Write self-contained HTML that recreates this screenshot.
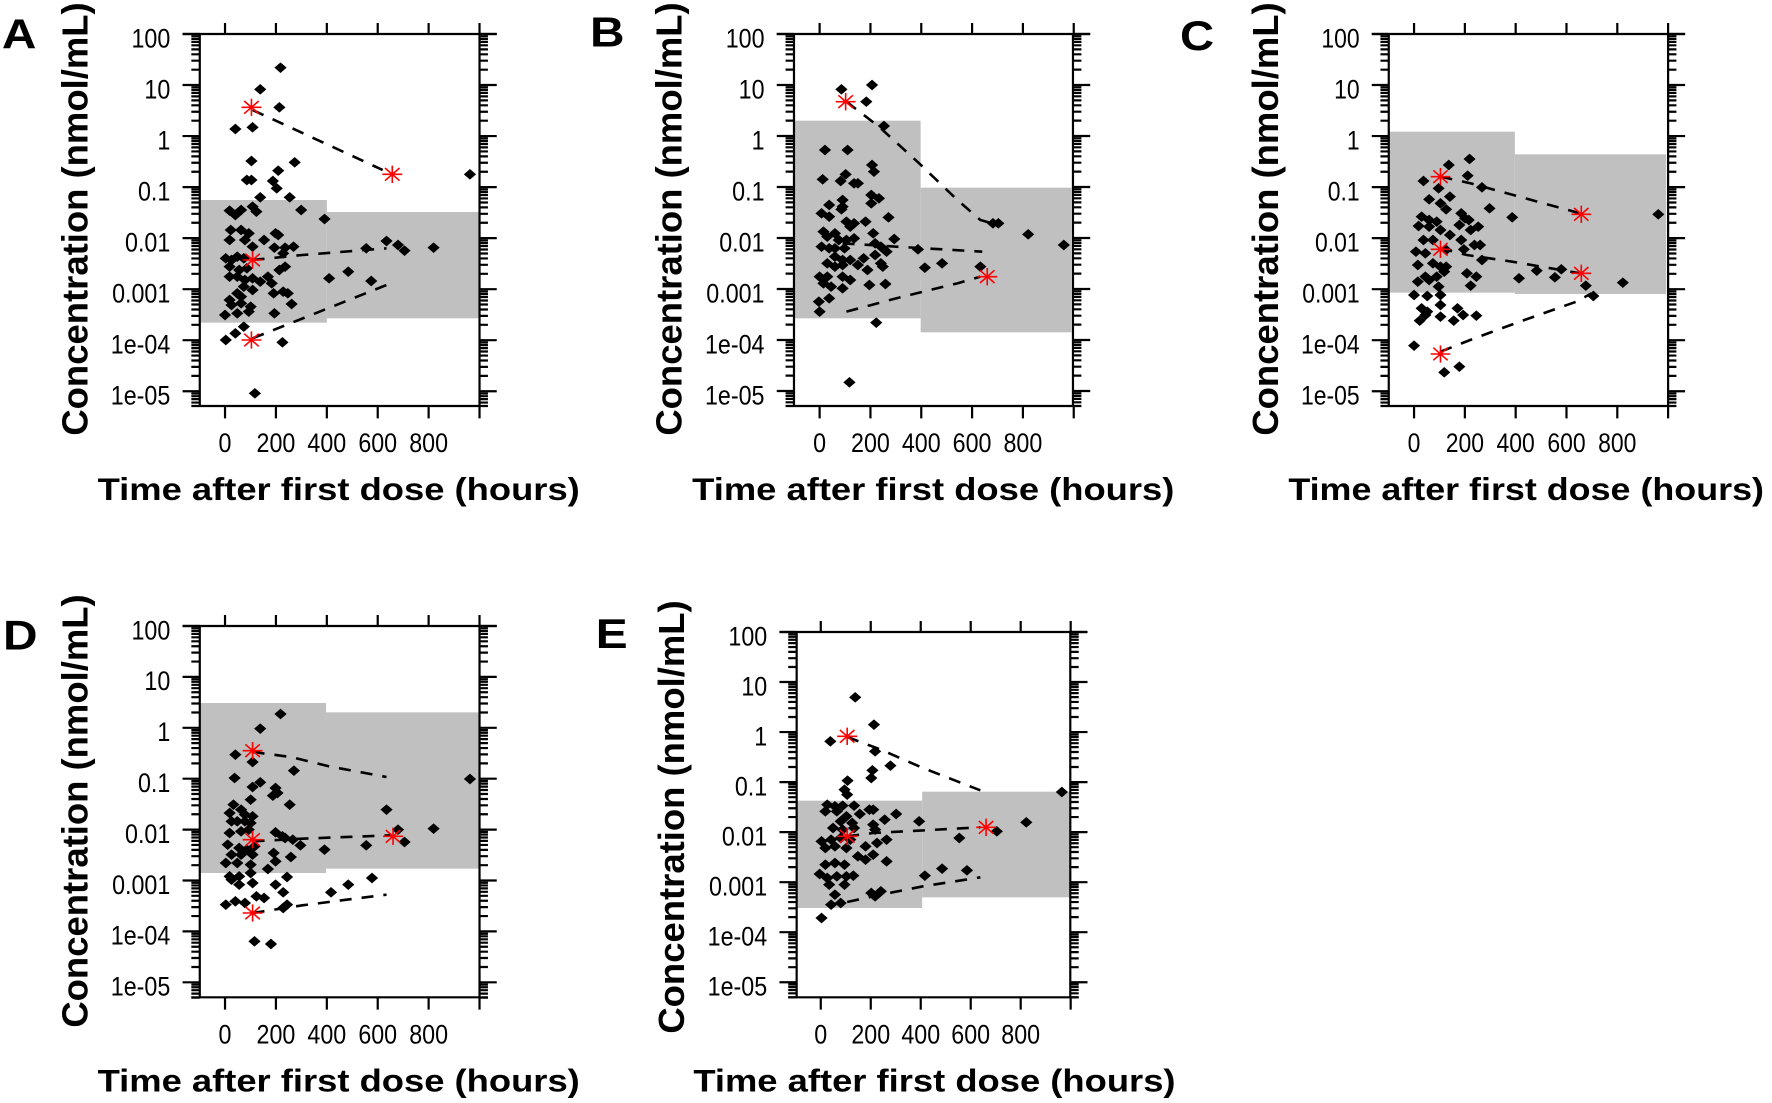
<!DOCTYPE html>
<html><head><meta charset="utf-8"><style>
html,body{margin:0;padding:0;background:#fff;}
svg{display:block;}
text{font-family:"Liberation Sans",Arial,sans-serif;}
</style></head><body>
<svg id="s" xmlns="http://www.w3.org/2000/svg" width="1772" height="1103" viewBox="0 0 1772 1103"></svg>
<script>
const P=[
{L:'A',ox:0,oy:0,s:1/2.613,bl:522,br:1253,y100:102,dec:153.1,bot:1218,x0:588,x1:1253,lb:[5,145],
bands:[[522,600,854,968],[854,636,1253,955]],
lines:[[[660,330],[1000,510]],[[660,780],[790,765],[1010,745]],[[660,1015],[1010,855]]],
stars:[[657,322],[1025,523],[660,780],[657,1020]],
pts:[[733,203],[680,268],[730,322],[615,387],[660,382],[657,483],[770,487],[727,512],[645,540],[657,540],[713,543],[723,565],[680,592],[757,592],[787,630],[848,657],[600,632],[615,645],[630,630],[660,620],[670,635],[603,690],[630,690],[650,700],[690,720],[720,700],[727,705],[600,720],[640,720],[660,740],[717,743],[745,743],[767,740],[1010,723],[1040,735],[1057,752],[957,745],[1133,743],[590,775],[605,780],[620,770],[637,775],[600,800],[625,810],[645,805],[600,830],[620,830],[640,840],[660,835],[680,845],[700,830],[710,850],[730,810],[745,800],[740,760],[860,835],[910,815],[970,843],[637,860],[660,870],[620,880],[630,890],[600,900],[605,915],[630,910],[715,880],[740,875],[752,880],[762,912],[588,945],[620,940],[650,935],[655,920],[717,940],[637,980],[615,1000],[590,1020],[738,1027],[666,1180],[1228,523]]},
{L:'B',ox:590,oy:0,s:1/2.613,bl:533,br:1262,y100:102,dec:153,bot:1218,x0:600,x1:1264,lb:[0,140],
bands:[[533,362,864,955],[864,563,1258,997]],
lines:[[[670,305],[755,380],[860,490],[960,600],[1020,660],[1050,670]],[[660,730],[800,740],[1025,755]],[[670,935],[800,895],[960,850],[1020,830]]],
stars:[[668,305],[1038,830]],
pts:[[657,268],[737,255],[722,305],[768,378],[614,450],[673,450],[737,495],[742,515],[608,538],[668,523],[655,543],[690,550],[700,550],[625,615],[660,600],[660,620],[657,628],[735,585],[755,595],[735,610],[780,652],[605,640],[625,650],[670,665],[680,680],[690,670],[720,665],[610,695],[620,710],[640,700],[650,720],[670,720],[690,715],[605,740],[625,745],[640,745],[665,745],[740,700],[745,730],[760,740],[795,717],[857,748],[640,770],[660,780],[680,780],[700,795],[715,775],[745,765],[775,755],[620,790],[640,800],[660,795],[600,830],[620,830],[660,830],[680,840],[725,810],[760,790],[765,800],[875,803],[920,790],[1020,800],[610,850],[630,860],[660,865],[730,855],[772,852],[598,905],[625,895],[600,935],[748,968],[678,1147],[1067,670],[1053,670],[1145,703],[1238,735]]},
{L:'C',ox:1180,oy:0,s:1/2.649,bl:553,br:1293,y100:102,dec:153.1,bot:1218,x0:620,x1:1293,lb:[0,150],
bands:[[553,395,887,878],[887,463,1288,882]],
lines:[[[690,530],[770,550],[860,578],[1060,640]],[[690,745],[760,765],[880,785],[1060,820]],[[690,1055],[780,1015],[900,965],[1050,905],[1090,880]]],
stars:[[690,530],[1063,643],[690,748],[1063,820],[690,1062]],
pts:[[767,477],[712,495],[762,527],[645,543],[685,565],[800,562],[660,598],[690,610],[715,590],[705,628],[820,625],[880,652],[640,650],[660,660],[680,665],[745,640],[755,655],[765,660],[790,680],[632,678],[660,680],[690,690],[740,675],[770,690],[645,720],[670,720],[715,705],[745,720],[780,735],[795,735],[625,755],[650,760],[705,750],[752,748],[800,780],[630,795],[670,790],[690,800],[705,800],[760,820],[785,830],[650,830],[680,830],[700,815],[630,845],[660,840],[685,860],[770,857],[898,835],[945,812],[993,832],[1010,808],[1075,857],[1095,888],[1173,848],[620,885],[655,888],[690,885],[640,925],[655,935],[690,915],[735,925],[650,945],[750,945],[785,947],[635,962],[690,950],[725,962],[620,1037],[700,1117],[740,1100],[1267,643]]},
{L:'D',ox:0,oy:583,s:1/2.613,bl:522,br:1253,y100:129,dec:152.7,bot:1243,x0:588,x1:1253,lb:[8,200],
bands:[[522,360,852,870],[852,388,1253,857]],
lines:[[[660,507],[760,522],[860,550],[1010,582]],[[660,775],[790,767],[1020,757]],[[660,990],[790,967],[1010,935]]],
stars:[[660,503],[660,770],[1027,760],[660,990]],
pts:[[733,393],[680,437],[615,515],[660,537],[768,563],[613,585],[680,598],[660,612],[720,615],[725,630],[713,638],[757,665],[1010,680],[1228,588],[610,665],[630,680],[655,650],[600,690],[640,695],[660,700],[605,715],[620,715],[640,715],[655,720],[600,750],[630,745],[650,740],[720,748],[738,760],[745,765],[765,770],[1133,737],[1040,740],[595,785],[625,795],[645,800],[665,790],[785,787],[848,800],[957,787],[1057,777],[605,815],[630,815],[660,815],[715,810],[760,822],[590,840],[620,840],[655,845],[700,858],[720,835],[600,880],[625,880],[655,870],[750,882],[972,885],[605,890],[625,905],[660,900],[720,905],[910,905],[740,928],[865,928],[670,940],[690,945],[590,965],[615,955],[640,960],[740,975],[750,965],[665,1075],[708,1083]]},
{L:'E',ox:590,oy:583,s:1/2.613,bl:540,br:1255,y100:147,dec:150.1,bot:1243,x0:603,x1:1256,lb:[15,195],
bands:[[540,653,868,975],[868,626,1253,943]],
lines:[[[672,462],[760,500],[870,555],[1020,622]],[[672,760],[740,750],[1020,733]],[[672,957],[760,935],[870,910],[1020,883]]],
stars:[[672,460],[672,760],[1035,733]],
pts:[[693,343],[742,425],[628,475],[745,505],[785,548],[738,562],[735,585],[673,593],[665,620],[672,635],[1233,627],[620,665],[640,670],[660,668],[690,668],[730,680],[740,680],[800,693],[615,685],[645,685],[670,700],[705,693],[655,715],[685,720],[740,725],[770,710],[860,715],[1140,718],[635,735],[660,740],[690,735],[745,740],[1063,745],[605,775],[630,770],[655,765],[680,770],[720,790],[750,780],[775,770],[965,765],[615,795],[640,790],[670,795],[700,820],[720,830],[740,815],[775,835],[615,845],[640,840],[665,845],[600,873],[620,885],[645,880],[670,880],[688,878],[875,878],[920,857],[985,862],[625,905],[665,905],[640,935],[735,930],[760,925],[745,940],[630,965],[655,960],[605,1005]]}
];
const W={'0':.556,'1':.556,'2':.556,'3':.556,'4':.556,'5':.556,'6':.556,'7':.556,'8':.556,'9':.556,'.':.278,'e':.556,'-':.333};
function tw(s,f){let w=0;for(const c of s)w+=W[c]||.556;return w*f*0.76;}
const NS='vector-effect="non-scaling-stroke"';
let out='';
for(const p of P){
  let g=`<g transform="translate(${p.ox},${p.oy}) scale(${p.s},${1/3})">`;
  for(const b of p.bands)g+=`<rect x="${b[0]}" y="${b[1]}" width="${b[2]-b[0]}" height="${b[3]-b[1]}" fill="#c0c0c0"/>`;
  for(const l of p.lines)g+=`<polyline points="${l.map(q=>q.join(',')).join(' ')}" fill="none" stroke="#000" stroke-width="2.6" stroke-dasharray="12 10" ${NS}/>`;
  for(const q of p.pts){const [x,y]=q,r=16;g+=`<polygon points="${x},${y-r} ${x+r},${y} ${x},${y+r} ${x-r},${y}" fill="#000"/>`;}
  for(const q of p.stars){const [x,y]=q,r=26,d=19;g+=`<path d="M${x-r},${y}H${x+r}M${x},${y-r}V${y+r}M${x-d},${y-d}L${x+d},${y+d}M${x-d},${y+d}L${x+d},${y-d}" stroke="#f00" stroke-width="1.6" ${NS}/>`;}
  const sw=2.2;
  g+=`<path d="M${p.bl-45},${p.y100}H${p.br+45}M${p.bl-22},${p.bot}H${p.br+22}M${p.bl},${p.y100}V${p.bot}M${p.br},${p.y100}V${p.bot}" stroke="#000" stroke-width="${sw}" fill="none" ${NS}/>`;
  const labs={2:'100',1:'10',0:'1','-1':'0.1','-2':'0.01','-3':'0.001','-4':'1e-04','-5':'1e-05'};
  let t='';
  for(let e=-6;e<=2;e++)for(let m=1;m<=9;m++){
    const v=e+Math.log10(m);const y=p.y100+(2-v)*p.dec;
    if(y<p.y100-1||y>p.bot+1)continue;
    const len=m==1?45:22;
    t+=`M${p.bl-len},${y.toFixed(1)}H${p.bl}M${p.br},${y.toFixed(1)}H${p.br+len}`;
    if(m==1&&labs[e]!==undefined){const s=labs[e];g+=`<text x="${p.bl-77}" y="${(y+40).toFixed(1)}" font-size="80" text-anchor="end" textLength="${tw(s,80).toFixed(1)}" lengthAdjust="spacingAndGlyphs">${s}</text>`;}
  }
  for(let h=0;h<=1000;h+=200){
    const x=p.x0+h*(p.x1-p.x0)/1000;
    t+=`M${x.toFixed(1)},${p.y100-33}V${p.y100}M${x.toFixed(1)},${p.bot}V${p.bot+37}`;
    if(h<1000){const s=String(h);g+=`<text x="${x.toFixed(1)}" y="${p.bot+138}" font-size="80" text-anchor="middle" textLength="${tw(s,80).toFixed(1)}" lengthAdjust="spacingAndGlyphs">${s}</text>`;}
  }
  g+=`<path d="${t}" stroke="#000" stroke-width="${sw}" fill="none" ${NS}/>`;
  g+=`<text x="${p.x0+297}" y="${p.bot+282}" font-size="95" font-weight="bold" text-anchor="middle" textLength="1260" lengthAdjust="spacingAndGlyphs">Time after first dose (hours)</text>`;
  g+=`<text transform="translate(${p.bl-294},${p.y100+555}) rotate(-90)" font-size="95" font-weight="bold" text-anchor="middle" textLength="1300" lengthAdjust="spacingAndGlyphs">Concentration (nmol/mL)</text>`;
  g+=`<text x="${p.lb[0]}" y="${p.lb[1]}" font-size="125" font-weight="bold">${p.L}</text>`;
  g+='</g>';
  out+=g;
}
document.getElementById('s').innerHTML=out;
</script>
</body></html>
